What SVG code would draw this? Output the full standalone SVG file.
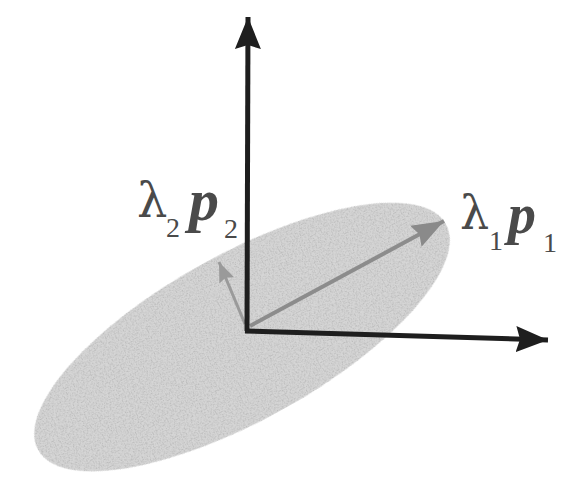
<svg xmlns="http://www.w3.org/2000/svg" width="584" height="482" viewBox="0 0 584 482">
<style>
.lab{font-family:"Liberation Serif","Times New Roman",serif;fill:#4a4a4a}
.gr{font-family:"DejaVu Serif","Liberation Serif",serif;fill:#4a4a4a}
.vec{font-weight:bold;font-style:italic}
.ax{stroke:#1e1e1e;stroke-width:5;fill:none;stroke-linecap:butt}
.pc{stroke:#8c8c8c;stroke-width:4;fill:none}
</style>
<defs>
<filter id="grain" x="-5%" y="-5%" width="110%" height="110%" filterUnits="objectBoundingBox">
<feTurbulence type="fractalNoise" baseFrequency="0.8" numOctaves="1" seed="3" result="n"/>
<feColorMatrix in="n" type="matrix" values="0 0 0 0 0.5  0 0 0 0 0.5  0 0 0 0 0.5  4 0 0 0 -1.8" result="g"/>
<feComposite in="g" in2="SourceGraphic" operator="in" result="gi"/>
<feMerge><feMergeNode in="SourceGraphic"/><feMergeNode in="gi"/></feMerge>
</filter>
<marker id="hk" markerUnits="userSpaceOnUse" markerWidth="34" markerHeight="28" refX="32" refY="14" orient="auto">
<path d="M0,1 L32,14 L0,27 L4,14 Z" fill="#1e1e1e"/>
</marker>
<marker id="hg" markerUnits="userSpaceOnUse" markerWidth="34" markerHeight="26" refX="32" refY="13" orient="auto">
<path d="M0,1 L32,13 L0,25 L4,13 Z" fill="#8a8a8a"/>
</marker>
<marker id="hg2" markerUnits="userSpaceOnUse" markerWidth="22" markerHeight="18" refX="20" refY="9" orient="auto">
<path d="M0,1 L20,9 L0,17 L3,9 Z" fill="#9a9a9a"/>
</marker>
</defs>
<g id="ellipse">
<ellipse cx="242" cy="337" rx="233" ry="83" transform="rotate(-29 242 337)" fill="#d6d6d6" filter="url(#grain)"/>
</g>
<g id="connectors">
<line id="p1" class="pc" x1="250" y1="326" x2="444" y2="221" marker-end="url(#hg)"/>
<line id="p2" x1="245" y1="324" x2="219" y2="262" stroke="#9a9a9a" stroke-width="3" marker-end="url(#hg2)"/>
<line id="yaxis" class="ax" x1="247" y1="331" x2="248" y2="17" marker-end="url(#hk)"/>
<line id="xaxis" class="ax" x1="245" y1="331" x2="548" y2="340" marker-end="url(#hk)"/>
</g>
<g id="label-l2p2">
<text class="gr" x="137" y="217" font-size="48">λ</text>
<text class="lab" x="166" y="237" font-size="28">2</text>
<text class="lab vec" x="189" y="220" font-size="60">p</text>
<text class="lab" x="224" y="238" font-size="28">2</text>
</g>
<g id="label-l1p1">
<text class="gr" x="460" y="229" font-size="46">λ</text>
<text class="lab" x="489" y="250" font-size="28">1</text>
<text class="lab vec" x="508" y="233" font-size="56">p</text>
<text class="lab" x="543" y="252" font-size="28">1</text>
</g>
</svg>
